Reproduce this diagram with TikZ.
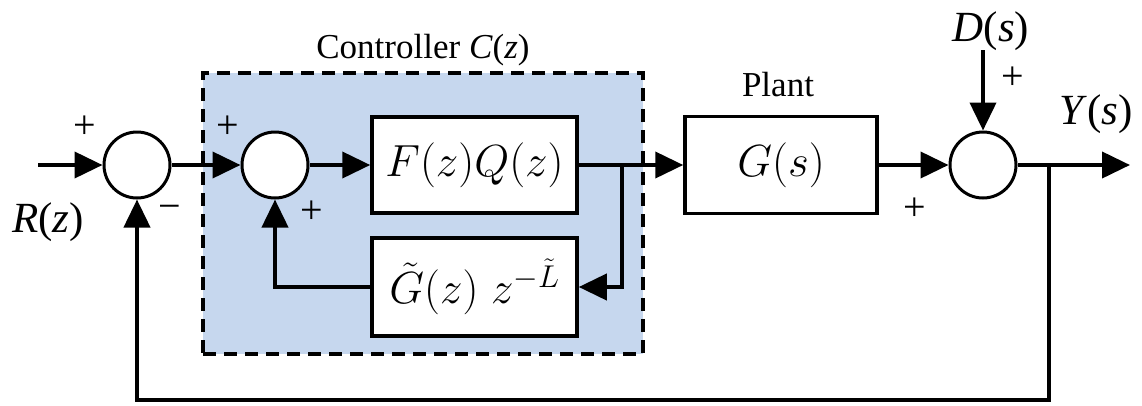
\RequirePackage{fix-cm}
\documentclass[tikz,border=0pt]{standalone}
\usepackage{fontspec}
\setmainfont{Liberation Serif}
\usetikzlibrary{arrows.meta}
\definecolor{ctrlblue}{RGB}{198,215,238}
\begin{document}
\begin{tikzpicture}[x=1pt,y=-1pt,
  sumnode/.style={circle, draw, line width=3pt, fill=white, minimum size=66pt, inner sep=0pt},
  blockbox/.style={draw, line width=3.5pt, fill=white, inner sep=0pt,
                   font=\fontsize{45}{50}\selectfont},
  ctrlframe/.style={draw, fill=ctrlblue, line width=4pt, dash pattern=on 13pt off 8pt},
  sig/.style={line width=4pt, -{Triangle[length=28pt,width=26pt]}},
  lbl/.style={font=\fontsize{35}{40}\selectfont},
  siglbl/.style={font=\fontsize{43}{48}\selectfont},
  sgn/.style={font=\fontsize{40}{44}\selectfont}]
\useasboundingbox (0,0) rectangle (1142,405);

% controller frame
\node[ctrlframe, minimum width=440pt, minimum height=281pt] (ctrl) at (423,213.5) {};
\node[lbl] (ctrllab) at (423,50) {Controller \textit{C}(\textit{z})};

% summing junctions
\node[sumnode] (s1) at (137,165) {};
\node[sumnode] (s2) at (275,165) {};
\node[sumnode] (s3) at (983,165) {};

% blocks
\node[blockbox, minimum width=205pt, minimum height=96pt] (fq) at (474.5,165) {$F(z)Q(z)$};
\node[blockbox, minimum width=205pt, minimum height=98pt] (gt) at (474.5,287) {$\tilde{G}(z)\;z^{-\tilde{L}}$};
\node[blockbox, minimum width=192pt, minimum height=97pt] (g) at (781,165) {$G(s)$};
\node[lbl] (plantlab) at (778,85) {Plant};

% signal end points
\coordinate (rin) at (38,165);
\coordinate (yout) at (1130,165);
\coordinate (din) at (983,50);
\coordinate (b1) at (622,165);
\coordinate (b2) at (1049,165);
\coordinate (fbR) at (1049,400);
\coordinate (fbL) at (137,400);

% signal lines
\draw[sig] (rin) -- (s1);
\draw[sig] (s1) -- (s2);
\draw[sig] (s2) -- (fq);
\draw[sig] (fq) -- (g);
\draw[sig] (b1) |- (gt.east);
\draw[sig] (gt.west) -| (s2.south);
\draw[sig] (g) -- (s3);
\draw[sig] (din) -- (s3);
\draw[sig] (s3) -- (yout);
\draw[sig] (b2) -- (fbR) -- (fbL) -- (s1.south);

% signal labels and signs
\node[siglbl] (rlab) at (48,222) {\textit{R}(\textit{z})};
\node[siglbl] (dlab) at (991,31) {\textit{D}(\textit{s})};
\node[siglbl] (ylab) at (1096,114) {\textit{Y}(\textit{s})};
\node[sgn] (p1) at (85,127) {+};
\node[sgn] (m1) at (170,212) {−};
\node[sgn] (p2) at (228,127) {+};
\node[sgn] (p3) at (312,212) {+};
\node[sgn] (p4) at (915,209) {+};
\node[sgn] (p5) at (1013,78) {+};
\end{tikzpicture}
\end{document}
